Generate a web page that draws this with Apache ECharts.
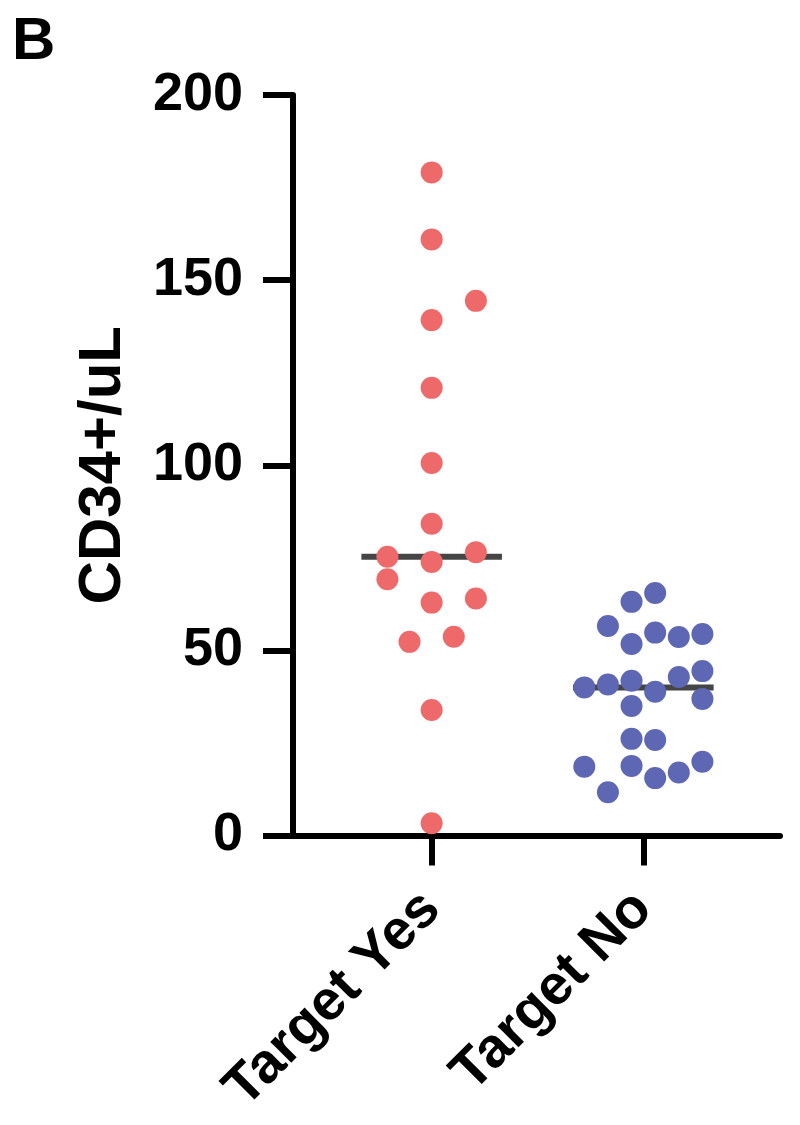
<!DOCTYPE html>
<html>
<head>
<meta charset="utf-8">
<script src="https://cdn.jsdelivr.net/npm/echarts@6/dist/echarts.min.js"></script>
<style>
  html, body { margin: 0; padding: 0; background: #ffffff; }
  #chart { width: 800px; height: 1125px; }
</style>
</head>
<body>
<div id="chart"></div>
<script>
// ---- data ----
const categories = ['Target Yes', 'Target No'];
const yTickValues = [0, 50, 100, 150, 200];
const yAxisTitle = 'CD34+/uL';
const panelLetter = 'B';

// CD34+/uL values per group
const yesValues = [179.1, 161.0, 144.4, 139.2, 120.9, 100.6, 84.2, 75.3, 76.5, 73.9, 69.2, 62.9, 64.0, 52.3, 53.7, 33.9, 3.3];
// dot column (scatter spread) per point as drawn in the reference
const yesColumns = [0, 0, 2, 0, 0, 0, 0, -2, 2, 0, -2, 0, 2, -1, 1, 0, 0];

const noValues = [65.5, 63.1, 56.6, 51.7, 54.8, 53.6, 54.4, 44.4, 42.8, 40.0, 40.8, 41.8, 38.8, 36.9, 35.0, 26.1, 25.8, 18.6, 18.8, 19.9, 17.0, 15.5, 11.7];
const noColumns = [0.5, -0.5, -1.5, -0.5, 0.5, 1.5, 2.5, 2.5, 1.5, -2.5, -1.5, -0.5, 0.5, 2.5, -0.5, -0.5, 0.5, -2.5, -0.5, 2.5, 1.5, 0.5, -1.5];

// ---- helpers ----
function median(arr) {
  const s = arr.slice().sort((a, b) => a - b);
  const n = s.length;
  return n % 2 ? s[(n - 1) / 2] : (s[n / 2 - 1] + s[n / 2]) / 2;
}
const FONT = '"Liberation Sans", Arial, Helvetica, sans-serif';
const groups = [
  { values: yesValues, cols: yesColumns, step: 0.1045, color: '#EE6A6A' },
  { values: noValues, cols: noColumns, step: 0.1116, color: '#5E67B3' }
];
const medianHalfWidth = 0.332;

const series = [];
groups.forEach((g, i) => {
  const center = i + 1;
  const med = median(g.values);
  series.push({
    type: 'line',
    data: [[center - medianHalfWidth, med], [center + medianHalfWidth, med]],
    symbol: 'none',
    lineStyle: { color: '#454545', width: 6, cap: 'butt' },
    z: 2,
    silent: true,
    animation: false
  });
});
groups.forEach((g, i) => {
  const center = i + 1;
  series.push({
    type: 'scatter',
    data: g.values.map((v, k) => [center + g.cols[k] * g.step, v]),
    symbol: 'circle',
    symbolSize: 22,
    itemStyle: { color: g.color, opacity: 1 },
    z: 3,
    animation: false
  });
});

const chart = echarts.init(document.getElementById('chart'), null, { renderer: 'canvas' });
chart.setOption({
  backgroundColor: '#ffffff',
  animation: false,
  grid: { left: 293, right: 20, top: 95, bottom: 289.5, containLabel: false },
  xAxis: {
    type: 'value',
    min: 0.345,
    max: 2.6455,
    splitLine: { show: false },
    axisLine: { show: true, onZero: false, lineStyle: { color: '#000', width: 6 } },
    axisTick: { show: true, customValues: [1, 2], length: 30, lineStyle: { color: '#000', width: 6 } },
    axisLabel: {
      show: true,
      customValues: [1, 2],
      formatter: v => categories[Math.round(v) - 1],
      rotate: 45,
      margin: 65,
      color: '#000',
      fontSize: 56,
      fontWeight: 'bold',
      fontFamily: FONT
    }
  },
  yAxis: {
    type: 'value',
    min: 0,
    max: 200,
    interval: 50,
    name: yAxisTitle,
    nameLocation: 'middle',
    nameGap: 160,
    nameTextStyle: { color: '#000', fontSize: 60, fontWeight: 'bold', fontFamily: FONT },
    splitLine: { show: false },
    axisLine: { show: true, lineStyle: { color: '#000', width: 6 } },
    axisTick: { show: true, length: 30, lineStyle: { color: '#000', width: 6 } },
    axisLabel: {
      show: true,
      margin: 50,
      color: '#000',
      fontSize: 54,
      fontWeight: 'bold',
      fontFamily: FONT,
      padding: [18, 0, 0, 0],
      formatter: v => (yTickValues.indexOf(v) >= 0 ? String(v) : '')
    }
  },
  graphic: [{
    type: 'text',
    left: 12,
    top: 12,
    style: { text: panelLetter, fill: '#000', fontSize: 60, fontWeight: 'bold', fontFamily: FONT }
  }],
  series: series
});
</script>
</body>
</html>
